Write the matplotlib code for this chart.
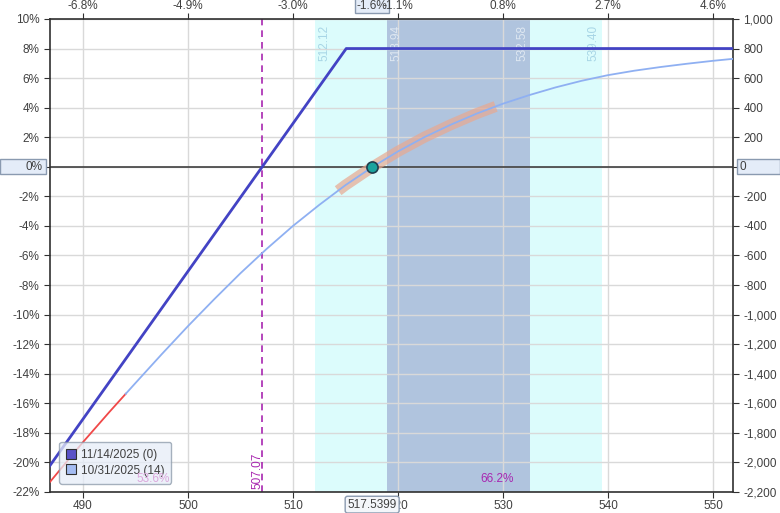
import matplotlib.pyplot as plt
from matplotlib.patches import Rectangle
from matplotlib.lines import Line2D
import numpy as np

plt.rcParams['font.family'] = ['Liberation Sans', 'DejaVu Sans']

# --------------------------------------------------------------------------
# Data
# --------------------------------------------------------------------------
current_price = 517.5399
breakeven = 507.07

# expiration P&L (11/14/2025), percent of capital
expiry_price = [486.0, 507.07, 515.07, 553.0]
expiry_pct = [-21.07, 0.0, 8.0, 8.0]

# T+14 P&L (10/31/2025), percent of capital
t14_price = [486.0, 487.5, 490.0, 492.5, 494.07, 495.0, 497.5, 500.0,
             502.5, 505.0, 507.5, 510.0, 512.5, 515.0, 517.59, 520.0,
             522.5, 525.0, 527.5, 530.0, 532.5, 535.0, 537.5, 540.0,
             542.5, 545.0, 547.5, 550.0, 553.0]
t14_pct = [-22.06, -20.77, -18.63, -16.6, -15.36, -14.63, -12.68, -10.78,
           -8.96, -7.2, -5.55, -4.0, -2.58, -1.24, 0.0, 1.04,
           2.0, 2.84, 3.6, 4.27, 4.85, 5.37, 5.82, 6.2,
           6.5, 6.75, 6.97, 7.17, 7.38]
red_cut = 494.07          # T+14 drawn red left of this price

# expected-move bands and orange highlight range
band_outer = [512.12, 539.40]
band_inner = [518.94, 532.58]
orange_range = [514.3, 529.3]

# axis ticks
x_ticks = [490, 500, 510, 520, 530, 540, 550]
top_labels = ['-6.8%', '-4.9%', '-3.0%', '-1.1%', '0.8%', '2.7%', '4.6%']
y_ticks = list(range(10, -23, -2))
legend_labels = ['11/14/2025 (0)', '10/31/2025 (14)']
prob_labels = [(496.7, '53.6%'), (529.4, '66.2%')]

# --------------------------------------------------------------------------
# Figure
# --------------------------------------------------------------------------
fig = plt.figure(figsize=(7.8, 5.13), dpi=100)
ax = fig.add_axes([0.0641, 0.041, 0.8756, 0.922])
xlim = (486.86, 551.9)
ax.set_xlim(*xlim)
ax.set_ylim(-22, 10)

dark_blue = '#4343c4'
light_blue = '#8fb0f2'
magenta = '#a826b0'
txt_col = '#404040'
fs = 8.5

# bands
ax.axvspan(*band_outer, color='#dcfcfc', zorder=0, lw=0)
ax.axvspan(*band_inner, color='#b0c4de', zorder=0.5, lw=0)

ax.set_xticks(x_ticks)
ax.set_yticks(y_ticks)
ax.grid(True, color='#d9d9d9', lw=1.0, zorder=1)
ax.set_axisbelow(True)

# zero line
ax.axhline(0, color='#404040', lw=1.2, zorder=2)

# breakeven
ax.axvline(breakeven, color=magenta, lw=1.2, ls=(0, (4, 3)), zorder=2)

# curves
t14_price = np.array(t14_price)
t14_pct = np.array(t14_pct)
left = t14_price <= red_cut
right = t14_price >= red_cut
ax.plot(t14_price[left], t14_pct[left], color='#f04848', lw=1.3, zorder=3)
ax.plot(t14_price[right], t14_pct[right], color=light_blue, lw=1.3, zorder=3)

seg = (t14_price > orange_range[0]) & (t14_price < orange_range[1])
ox = np.concatenate([[orange_range[0]], t14_price[seg], [orange_range[1]]])
oy = np.interp(ox, t14_price, t14_pct)
ax.plot(ox, oy, color='#e8a890', lw=8, alpha=0.7, solid_capstyle='butt',
        zorder=2.8)

ax.plot(expiry_price, expiry_pct, color=dark_blue, lw=2.0, zorder=4)

ax.plot([current_price], [0], 'o', ms=8, mfc='#1aa39e', mec='#1f3f4f',
        mew=1.2, zorder=5)

# band value labels
lab_kw = dict(rotation=90, fontsize=fs, va='top', zorder=3)
ax.text(band_outer[0] + 0.3, 9.6, f'{band_outer[0]:.2f}', ha='left',
        color='#a8d6e6', **lab_kw)
ax.text(band_inner[0] + 0.3, 9.6, f'{band_inner[0]:.2f}', ha='left',
        color='#dfe8f2', **lab_kw)
ax.text(band_inner[1] - 0.2, 9.6, f'{band_inner[1]:.2f}', ha='right',
        color='#dfe8f2', **lab_kw)
ax.text(band_outer[1] - 0.2, 9.6, f'{band_outer[1]:.2f}', ha='right',
        color='#a8d6e6', **lab_kw)

ax.text(breakeven + 0.15, -21.8, f'{breakeven:.2f}', rotation=90, ha='right',
        va='bottom', fontsize=fs, color=magenta, zorder=3)

# probability labels; the left one shows through the legend
ax.text(prob_labels[0][0], -21.1, prob_labels[0][1], ha='center', va='center',
        fontsize=fs, color='#dba6db', zorder=9)
ax.text(prob_labels[1][0], -21.1, prob_labels[1][1], ha='center', va='center',
        fontsize=fs, color=magenta, zorder=3)

# axes styling
for s in ax.spines.values():
    s.set_color('#303030')
    s.set_linewidth(1.2)
ax.tick_params(axis='both', labelsize=fs, colors='#303030', length=4,
               labelcolor=txt_col)
ax.tick_params(axis='x', pad=2)
ax.set_yticklabels(['' if v == 0 else f'{v}%' for v in y_ticks])
ax.set_xticklabels([str(v) for v in x_ticks])

# right axis in dollars
axr = ax.twinx()
axr.set_ylim(-2200, 1000)
r_ticks = [v * 100 for v in y_ticks]
axr.set_yticks(r_ticks)
axr.set_yticklabels(['' if v == 0 else f'{v:,}' for v in r_ticks])
axr.tick_params(labelsize=fs, colors='#303030', length=4, labelcolor=txt_col)
for s in axr.spines.values():
    s.set_visible(False)

# top axis in percent move
axt = ax.twiny()
axt.set_xlim(*xlim)
axt.set_xticks(x_ticks)
axt.set_xticklabels(top_labels)
axt.tick_params(labelsize=fs, colors='#303030', length=4, pad=1,
                labelcolor=txt_col)
for s in axt.spines.values():
    s.set_visible(False)

# value boxes on the axes (figure pixel coordinates)
W, H = 780.0, 513.0
y0 = (513 - 174) / H
fig.patches.append(Rectangle((0, y0), 46 / W, 15 / H, transform=fig.transFigure,
                             fc='#e4ecf8', ec='#8a9ab0', lw=1, zorder=10))
fig.text(43 / W, (513 - 167) / H, '0%', ha='right', va='center', fontsize=fs,
         color=txt_col, zorder=11)
fig.patches.append(Rectangle((737 / W, y0), 43 / W, 15 / H,
                             transform=fig.transFigure, fc='#e4ecf8',
                             ec='#8a9ab0', lw=1, zorder=10))
fig.text(740 / W, (513 - 167) / H, '0', ha='left', va='center', fontsize=fs,
         color=txt_col, zorder=11)

ax.text(current_price, 10.5, '-1.6%', ha='center', va='bottom', clip_on=False,
        fontsize=fs, color=txt_col, zorder=10,
        bbox=dict(boxstyle='square,pad=0.15', fc='#e4ecf8', ec='#8a9ab0', lw=1))
ax.text(current_price, -22.45, f'{current_price:.4f}', ha='center', va='top',
        clip_on=False, fontsize=fs, color=txt_col, zorder=10,
        bbox=dict(boxstyle='round,pad=0.2', fc='#f4f6fa', ec='#8a9ab0', lw=1))

# legend
handles = [Line2D([], [], ls='none', marker='s', ms=7, mfc='#5a52c8',
                  mec='#303030', mew=0.8),
           Line2D([], [], ls='none', marker='s', ms=7, mfc='#a4bcf2',
                  mec='#303030', mew=0.8)]
leg = ax.legend(handles, legend_labels, loc='lower left',
                bbox_to_anchor=(0.005, 0.005), fontsize=fs, frameon=True,
                fancybox=True, framealpha=0.75, facecolor='#e6edf8',
                edgecolor='#8a98a8', handlelength=0.8, handletextpad=0.4,
                labelspacing=0.3, borderpad=0.6)
leg.get_frame().set_linewidth(1.0)
for t in leg.get_texts():
    t.set_color(txt_col)
leg.set_zorder(8)

fig.savefig('out.png', dpi=100)
